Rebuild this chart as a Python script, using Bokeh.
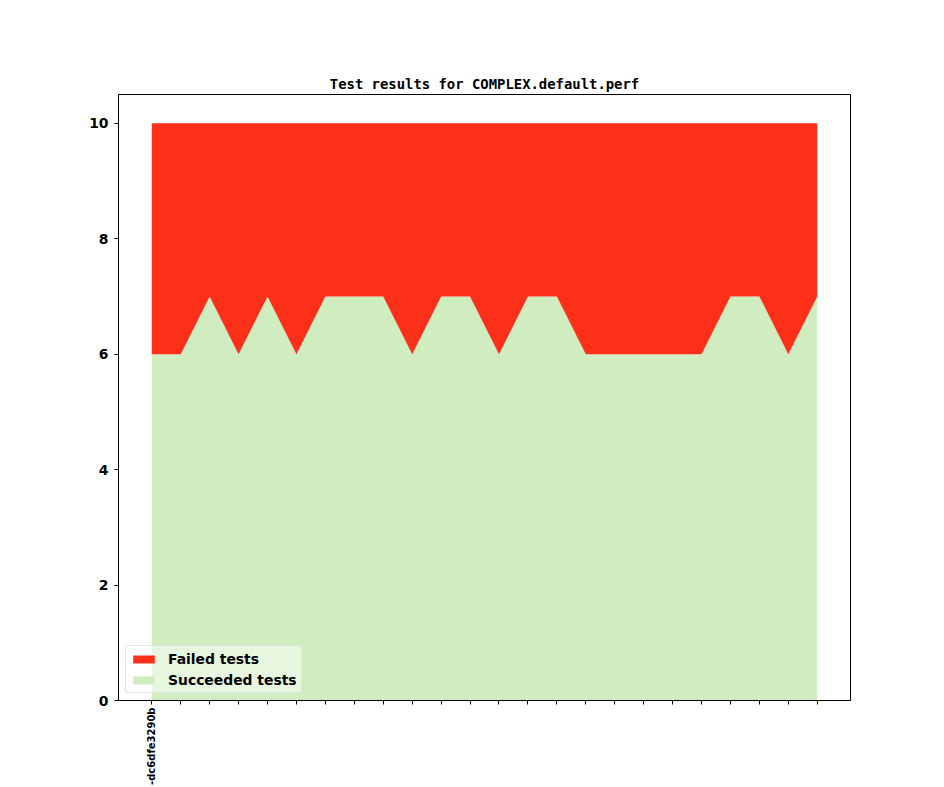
import math
from bokeh.plotting import figure
from bokeh.models import ColumnDataSource, Legend, LegendItem, FixedTicker, Range1d
from bokeh.embed import file_html
from bokeh.resources import INLINE

# ---- data ----
commit_index = list(range(24))
succeeded = [6, 6, 7, 6, 7, 6, 7, 7, 7, 6, 7, 7, 6, 7, 7, 6, 6, 6, 6, 6, 7, 7, 6, 7]
failed = [4, 4, 3, 4, 3, 4, 3, 3, 3, 4, 3, 3, 4, 3, 3, 4, 4, 4, 4, 4, 3, 3, 4, 3]
tick_labels = ["-dc6dfe3290b"] + [""] * 23
series_names = ["Succeeded tests", "Failed tests"]
series_colors = ["#cfedbf", "#ff301a"]
y_ticks = [0, 2, 4, 6, 8, 10]

source = ColumnDataSource(dict(x=commit_index, succeeded=succeeded, failed=failed))

p = figure(
    width=944, height=787,
    output_backend="svg", toolbar_location=None,
    x_range=Range1d(-1.15, 24.15), y_range=Range1d(0, 10.5),
    min_border_left=118, min_border_right=94, min_border_top=94, min_border_bottom=87,
    title="Test results for COMPLEX.default.perf",
)

renderers = p.varea_stack(["succeeded", "failed"], x="x", source=source,
                          color=series_colors)

legend = Legend(items=[
    LegendItem(label=series_names[1], renderers=[renderers[1]]),
    LegendItem(label=series_names[0], renderers=[renderers[0]]),
], location="bottom_left")
legend.margin = 7
legend.padding = 4
legend.spacing = 4
legend.glyph_width = 27
legend.glyph_height = 10
legend.label_text_font = "DejaVu Sans"
legend.label_text_font_style = "bold"
legend.label_text_font_size = "13.9px"
legend.label_text_color = "black"
legend.label_height = 17
legend.label_standoff = 11
legend.background_fill_color = "white"
legend.background_fill_alpha = 0.5
legend.border_line_color = "#dddddd"
legend.border_line_alpha = 0.8
legend.border_radius = 3
p.add_layout(legend)

# title
p.title.text_font = "DejaVu Sans Mono"
p.title.text_font_style = "bold"
p.title.text_font_size = "13.9px"
p.title.align = "center"
p.title.text_color = "black"
p.title.standoff = 6

# frame
p.outline_line_color = "black"
p.outline_line_alpha = 1
p.outline_line_width = 1
p.xgrid.visible = False
p.ygrid.visible = False
p.background_fill_color = "white"
p.border_fill_color = "white"

# x axis
p.xaxis.ticker = FixedTicker(ticks=commit_index)
p.xaxis.major_label_overrides = {i: lab for i, lab in zip(commit_index, tick_labels)}
p.xaxis.major_label_orientation = math.pi / 2
p.xaxis.major_label_text_font = "DejaVu Sans"
p.xaxis.major_label_text_font_style = "bold"
p.xaxis.major_label_text_font_size = "10px"
p.xaxis.major_label_standoff = 3

# y axis
p.yaxis.ticker = FixedTicker(ticks=y_ticks)
p.yaxis.major_label_text_font = "DejaVu Sans"
p.yaxis.major_label_text_font_style = "bold"
p.yaxis.major_label_text_font_size = "13.9px"
p.yaxis.major_label_standoff = 6

for ax in (p.xaxis, p.yaxis):
    ax.axis_line_color = "black"
    ax.major_tick_line_color = "black"
    ax.major_tick_out = 4
    ax.major_tick_in = 0
    ax.minor_tick_line_color = None
    ax.major_label_text_color = "black"

open("out.html", "w").write(file_html(p, INLINE))
